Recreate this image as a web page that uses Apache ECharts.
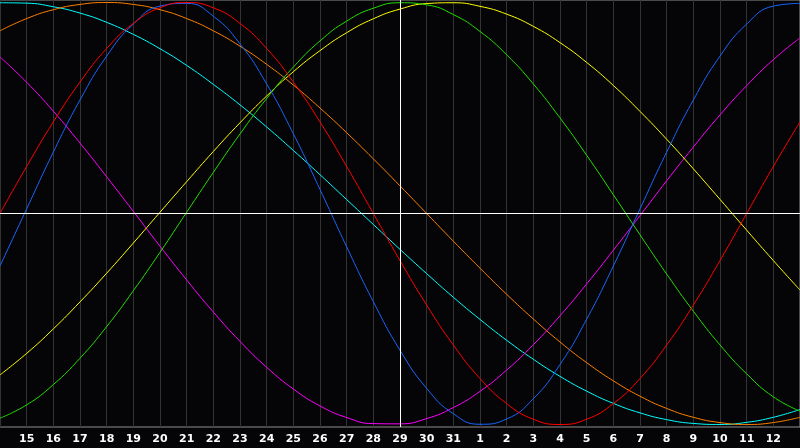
<!DOCTYPE html>
<html>
<head>
<meta charset="utf-8">
<script src="https://cdn.jsdelivr.net/npm/echarts@6/dist/echarts.min.js"></script>
<style>
html,body{margin:0;padding:0;background:#050507;}
#c{width:800px;height:448px;}
</style>
</head>
<body>
<div id="c"></div>
<script>
const days = [14,15,16,17,18,19,20,21,22,23,24,25,26,27,28,29,30,31,1,2,3,4,5,6,7,8,9,10,11,12,13];
const todayIndex = 15;

const red = [0,0.223,0.434,0.623,0.782,0.901,0.975,1,0.975,0.901,0.782,0.623,0.434,0.223,0,-0.223,-0.434,-0.623,-0.782,-0.901,-0.975,-1,-0.975,-0.901,-0.782,-0.623,-0.434,-0.223,0,0.223,0.434];
const blue = [-0.249,0.022,0.291,0.538,0.746,0.898,0.983,0.996,0.935,0.804,0.614,0.378,0.114,-0.158,-0.418,-0.648,-0.829,-0.949,-0.999,-0.974,-0.878,-0.716,-0.501,-0.249,0.022,0.291,0.538,0.746,0.898,0.983,0.996];
const green = [-0.970,-0.907,-0.811,-0.686,-0.536,-0.366,-0.184,0.006,0.195,0.377,0.545,0.694,0.818,0.912,0.973,0.999,0.989,0.943,0.863,0.752,0.614,0.453,0.276,0.089,-0.101,-0.287,-0.463,-0.623,-0.760,-0.869,-0.937];
const yellow = [-0.765,-0.663,-0.547,-0.419,-0.283,-0.140,0.006,0.151,0.294,0.430,0.557,0.672,0.772,0.857,0.923,0.969,0.995,0.999,0.982,0.945,0.887,0.810,0.716,0.607,0.484,0.352,0.212,0.067,-0.079,-0.223,-0.363];
const cyan = [0.999,0.997,0.980,0.950,0.906,0.849,0.781,0.702,0.612,0.515,0.410,0.299,0.184,0.066,-0.052,-0.170,-0.285,-0.397,-0.502,-0.601,-0.691,-0.772,-0.842,-0.900,-0.945,-0.977,-0.995,-1.000,-0.990,-0.966,-0.929];
const orange = [0.866,0.924,0.966,0.991,1,0.991,0.966,0.924,0.866,0.793,0.707,0.609,0.5,0.383,0.259,0.131,0,-0.131,-0.259,-0.383,-0.5,-0.609,-0.707,-0.793,-0.866,-0.924,-0.966,-0.991,-1,-0.991,-0.966];
const magenta = [0.742,0.622,0.485,0.334,0.174,0.010,-0.155,-0.315,-0.467,-0.606,-0.729,-0.832,-0.912,-0.967,-0.996,-0.997,-0.972,-0.920,-0.843,-0.742,-0.622,-0.485,-0.334,-0.174,-0.010,0.155,0.315,0.467,0.606,0.729,0.832];

const seriesDefs = [
  {name:'cyan', data:cyan, color:'#00ffff'},
  {name:'orange', data:orange, color:'#ff8000'},
  {name:'magenta', data:magenta, color:'#ff00ff'},
  {name:'yellow', data:yellow, color:'#ffff00'},
  {name:'green', data:green, color:'#22dd00'},
  {name:'blue', data:blue, color:'#1a66ff'},
  {name:'red', data:red, color:'#ff0000'}
];

const chart = echarts.init(document.getElementById('c'), null, {renderer:'canvas'});
const series = seriesDefs.map(s => ({
  name: s.name,
  type: 'line',
  data: s.data,
  smooth: true,
  symbol: 'none',
  lineStyle: {color: s.color, width: 1},
  itemStyle: {color: s.color},
  animation: false,
  silent: true
}));
series.push({
  type: 'line',
  data: [],
  silent: true,
  animation: false,
  markLine: {
    symbol: 'none',
    silent: true,
    label: {show: false},
    lineStyle: {color: '#ffffff', width: 1, type: 'solid'},
    data: [{xAxis: todayIndex}, {yAxis: 0}]
  }
});

const lastIndex = days.length - 1;
chart.setOption({
  backgroundColor: '#050507',
  animation: false,
  grid: {left: 0, right: 0, top: 0, bottom: 21, containLabel: false, outerBoundsMode: 'none',
         show: true, borderColor: '#909090', borderWidth: 1, backgroundColor: 'transparent'},
  xAxis: {
    type: 'category',
    data: days,
    boundaryGap: false,
    axisLine: {show: true, lineStyle: {color: '#909090', width: 1}},
    axisTick: {show: false},
    splitLine: {show: true, lineStyle: {color: '#333333', width: 1}},
    axisLabel: {
      show: true, interval: 0, hideOverlap: false,
      formatter: (v, i) => (i === 0 || i === lastIndex) ? '' : String(v),
      color: '#ffffff', fontWeight: 'bold', fontSize: 11, fontFamily: 'DejaVu Sans', margin: 7
    }
  },
  yAxis: {
    type: 'value',
    min: -1.012, max: 1.012,
    axisLine: {show: false},
    axisTick: {show: false},
    axisLabel: {show: false},
    splitLine: {show: false}
  },
  series: series
});
</script>
</body>
</html>
